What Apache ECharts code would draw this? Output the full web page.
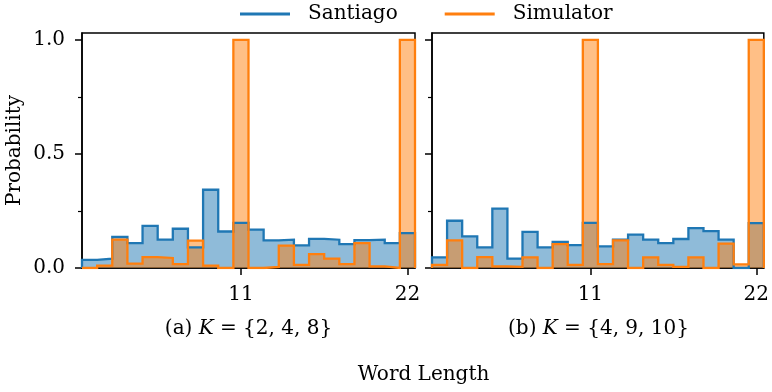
<!DOCTYPE html>
<html>
<head>
<meta charset="utf-8">
<script src="https://cdn.jsdelivr.net/npm/echarts@6/dist/echarts.min.js"></script>
<style>html,body{margin:0;padding:0;background:#fff}#c{width:772px;height:392px}</style>
</head>
<body>
<div id="c"></div>
<script>
// Word length bins 1..22 (bin width 1)
var wordLengths = [1,2,3,4,5,6,7,8,9,10,11,12,13,14,15,16,17,18,19,20,21,22];
// Panel (a) K = {2,4,8}
var santiagoA  = [0.036,0.041,0.136,0.109,0.185,0.124,0.172,0.090,0.343,0.160,0.198,0.168,0.121,0.124,0.099,0.128,0.124,0.105,0.122,0.124,0.109,0.153];
var simulatorA = [0.000,0.010,0.124,0.019,0.048,0.044,0.017,0.120,0.010,0.000,1.000,0.000,0.005,0.098,0.014,0.061,0.041,0.017,0.109,0.007,0.000,1.000];
// Panel (b) K = {4,9,10}
var santiagoB  = [0.047,0.207,0.139,0.090,0.260,0.041,0.158,0.090,0.114,0.100,0.198,0.095,0.124,0.146,0.124,0.109,0.127,0.175,0.162,0.124,0.000,0.197];
var simulatorB = [0.014,0.121,0.000,0.048,0.007,0.005,0.047,0.000,0.105,0.014,1.000,0.017,0.121,0.000,0.047,0.014,0.005,0.047,0.000,0.107,0.016,1.000];
var xTicks = [11, 22];
var yMajorTicks = [0, 0.5, 1.0];
var yMinorTicks = [0.25, 0.75];
var captionA = '(a) {i|K} = {2, 4, 8}';
var captionB = '(b) {i|K} = {4, 9, 10}';
var xTitle = 'Word Length';
var yTitle = 'Probability';

var BLUE = '#1f77b4', ORANGE = '#ff7f0e';
var FONT = 'DejaVu Serif';
var FS = 20;

function stepPoints(vals) {
  var pts = [[wordLengths[0] - 0.5, 0]];
  for (var i = 0; i < vals.length; i++) pts.push([wordLengths[i] - 0.5, vals[i]]);
  var last = wordLengths[wordLengths.length - 1] + 0.5;
  pts.push([last, vals[vals.length - 1]]);
  pts.push([last, 0]);
  return pts;
}

function grid(left) {
  return {left: left, top: 33, width: 333, height: 235, show: true, borderColor: '#000', borderWidth: 1.5, backgroundColor: 'transparent', containLabel: false};
}
function xAxis(gi) {
  return {
    type: 'value', gridIndex: gi, min: 0.5, max: 22.5,
    axisLine: {show: true, lineStyle: {color: '#000', width: 1.5}},
    splitLine: {show: false},
    axisTick: {show: true, customValues: xTicks, length: 7, lineStyle: {color: '#000', width: 1.5}},
    axisLabel: {show: true, customValues: xTicks, margin: 17, color: '#000', fontFamily: FONT, fontSize: FS}
  };
}
function yAxis(gi, labels, withName) {
  var ax = {
    type: 'value', gridIndex: gi, min: 0, max: 1.03,
    axisLine: {show: true, lineStyle: {color: '#000', width: 1.5}},
    splitLine: {show: false},
    axisTick: {show: true, customValues: yMajorTicks, length: 7, lineStyle: {color: '#000', width: 1.5}},
    axisLabel: {show: labels, customValues: yMajorTicks, margin: 17, color: '#000', fontFamily: FONT, fontSize: FS,
      formatter: function (v) { return v.toFixed(1); }}
  };
  if (withName) {
    ax.name = yTitle; ax.nameLocation = 'middle'; ax.nameGap = 57;
    ax.nameTextStyle = {color: '#000', fontFamily: FONT, fontSize: FS};
  }
  return ax;
}
function yMinor(gi) {
  return {
    type: 'value', gridIndex: gi, min: 0, max: 1.03, position: 'left',
    axisLine: {show: false}, splitLine: {show: false}, axisLabel: {show: false},
    axisTick: {show: true, customValues: yMinorTicks, length: 4, lineStyle: {color: '#000', width: 1.2}}
  };
}
function fillSeries(name, color, fill, vals, gi) {
  return {type: 'line', name: name, xAxisIndex: gi, yAxisIndex: gi * 2, step: 'end', data: stepPoints(vals),
    symbol: 'none', color: color, lineStyle: {width: 0}, areaStyle: {color: fill, opacity: 1}, z: 2, silent: true};
}
function lineSeries(name, color, vals, gi) {
  return {type: 'line', name: name, xAxisIndex: gi, yAxisIndex: gi * 2, step: 'end', data: stepPoints(vals),
    symbol: 'none', color: color, lineStyle: {width: 2.3, color: color, join: 'miter'}, z: 3, silent: true};
}

var chart = echarts.init(document.getElementById('c'), null, {renderer: 'canvas'});
chart.setOption({
  animation: false,
  backgroundColor: '#fff',
  legend: {
    left: 235, top: -1, itemWidth: 50, itemHeight: 3, itemGap: 47,
    data: [{name: 'Santiago', icon: 'rect'}, {name: 'Simulator', icon: 'rect'}],
    textStyle: {color: '#000', fontFamily: FONT, fontSize: FS, padding: [0, 0, 0, 13]}
  },
  grid: [grid(82), grid(432)],
  xAxis: [xAxis(0), xAxis(1)],
  yAxis: [yAxis(0, true, true), yMinor(0), yAxis(1, false, false), yMinor(1)],
  series: [
    fillSeries('Santiago', BLUE, 'rgba(31,119,180,0.5)', santiagoA, 0),
    fillSeries('Simulator', ORANGE, 'rgba(255,127,14,0.5)', simulatorA, 0),
    lineSeries('Santiago', BLUE, santiagoA, 0),
    lineSeries('Simulator', ORANGE, simulatorA, 0),
    fillSeries('Santiago', BLUE, 'rgba(31,119,180,0.5)', santiagoB, 1),
    fillSeries('Simulator', ORANGE, 'rgba(255,127,14,0.5)', simulatorB, 1),
    lineSeries('Santiago', BLUE, santiagoB, 1),
    lineSeries('Simulator', ORANGE, simulatorB, 1)
  ],
  graphic: [
    {type: 'text', x: 248.5, y: 329, style: {text: captionA, align: 'center', verticalAlign: 'middle', fill: '#000', fontFamily: FONT, fontSize: FS,
      rich: {i: {fontStyle: 'italic', fontFamily: FONT, fontSize: FS, fill: '#000'}}}},
    {type: 'text', x: 598.5, y: 329, style: {text: captionB, align: 'center', verticalAlign: 'middle', fill: '#000', fontFamily: FONT, fontSize: FS,
      rich: {i: {fontStyle: 'italic', fontFamily: FONT, fontSize: FS, fill: '#000'}}}},
    {type: 'text', x: 423.5, y: 375, style: {text: xTitle, align: 'center', verticalAlign: 'middle', fill: '#000', fontFamily: FONT, fontSize: FS}}
  ]
});
</script>
</body>
</html>
